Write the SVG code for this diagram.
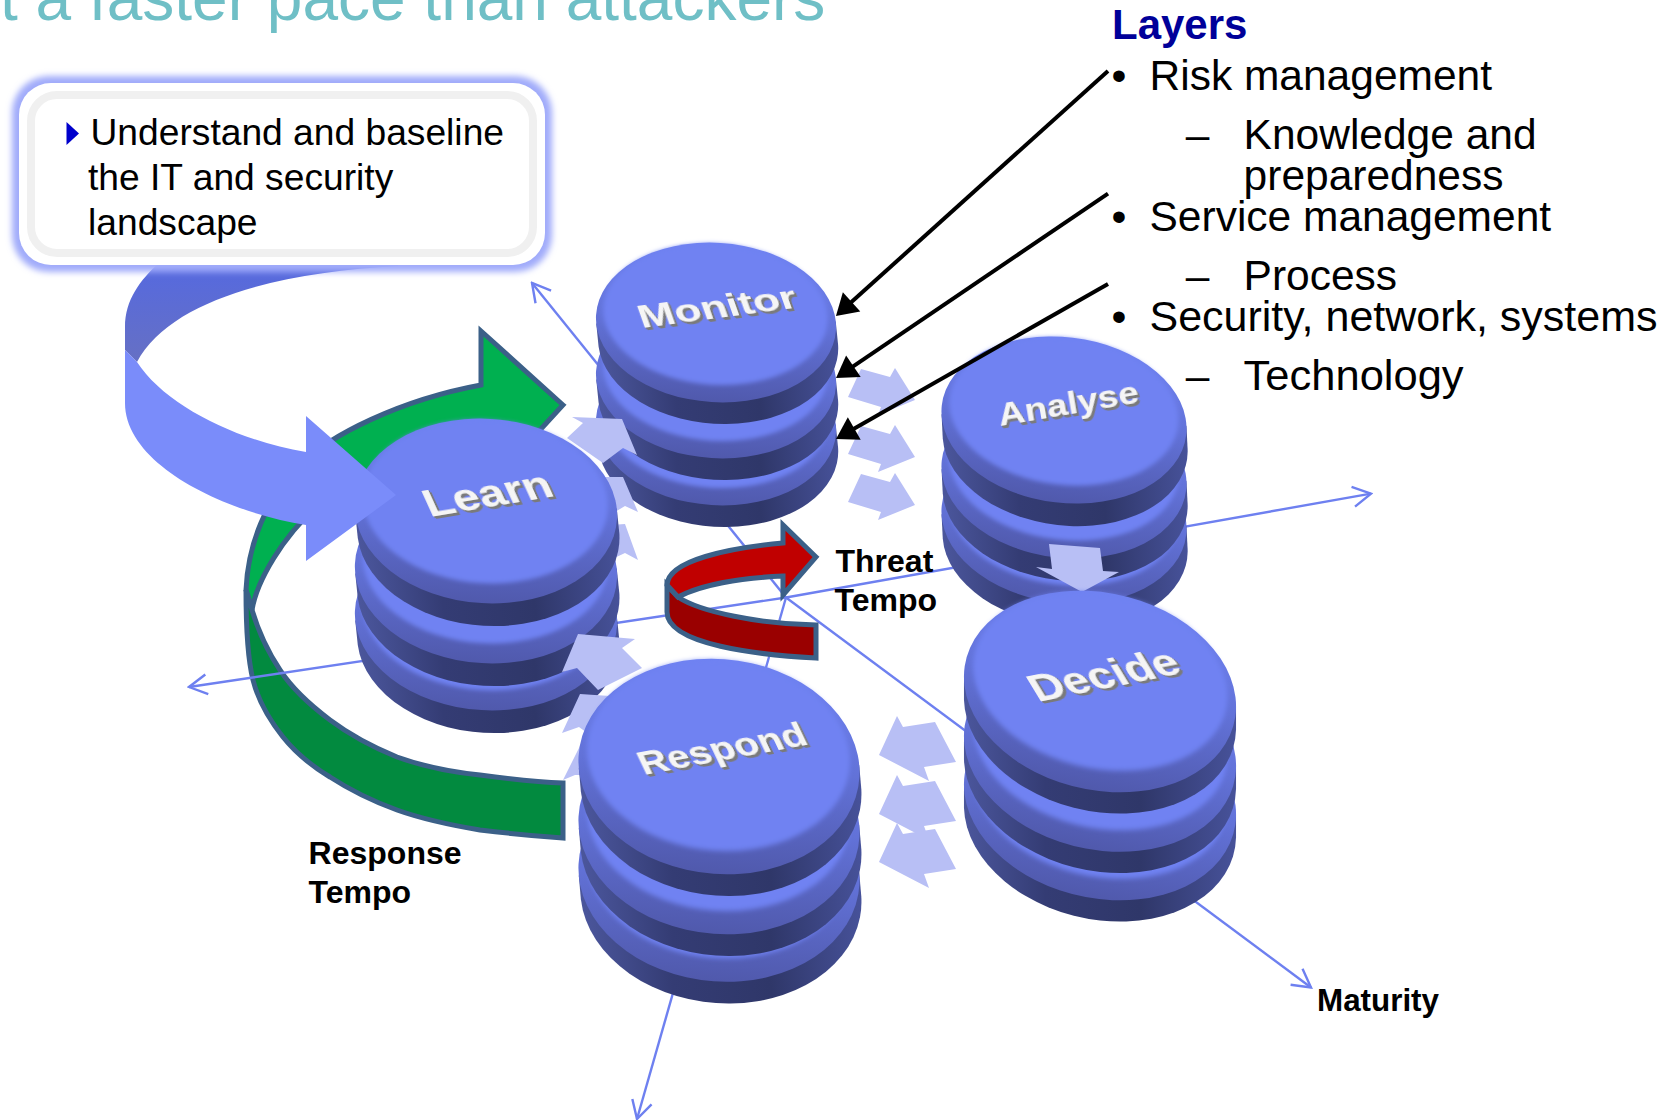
<svg xmlns="http://www.w3.org/2000/svg" xmlns:xlink="http://www.w3.org/1999/xlink" width="1668" height="1120" viewBox="0 0 1668 1120">
<style>
text{font-family:"Liberation Sans",Arial,sans-serif}
.b{font-size:42.5px;fill:#000}
.c{font-size:37.2px;fill:#000}
.l{font-size:32px;font-weight:bold;fill:#000}
.d{font-weight:bold;fill:#f5f5f5;filter:url(#ext)}
.axis{fill:none;stroke:#6e80f0;stroke-width:2.4;marker-end:url(#open)}
.lead{fill:none;stroke:#000;stroke-width:4;marker-end:url(#solid)}
.pale{fill:#b8bff5}
.edge{stroke:#3b6088;stroke-width:5;stroke-linejoin:miter}
</style>
<defs>
<marker id="open" viewBox="-20 -12 22 24" refX="0" refY="0" markerWidth="22" markerHeight="24" orient="auto" markerUnits="userSpaceOnUse"><path d="M-18,-10 L0,0 L-18,10" fill="none" stroke="#6e80f0" stroke-width="2.4"/></marker>
<marker id="solid" viewBox="-12 -14 24 28" refX="0" refY="0" markerWidth="24" markerHeight="28" orient="auto" markerUnits="userSpaceOnUse"><path d="M-11,-13 L10,0 L-11,13 Z" fill="#000"/></marker>
<linearGradient id="rim" x1="0" y1="0" x2="0" y2="1"><stop offset="0" stop-color="#6f82f2"/><stop offset=".5" stop-color="#6272d8"/><stop offset="1" stop-color="#5059ac"/></linearGradient>
<linearGradient id="sideG" x1="0" y1="0" x2="1" y2="0"><stop offset="0" stop-color="#4b569c"/><stop offset=".3" stop-color="#343c74"/><stop offset=".65" stop-color="#2f3769"/><stop offset="1" stop-color="#47529a"/></linearGradient>
<linearGradient id="fold" x1="0" y1="0" x2="0" y2="1"><stop offset="0" stop-color="#5569e0"/><stop offset="1" stop-color="#6670c4"/></linearGradient>
<filter id="soft" x="-5%" y="-5%" width="110%" height="110%"><feGaussianBlur stdDeviation="2"/></filter>
<filter id="glow" x="-5%" y="-10%" width="110%" height="120%"><feGaussianBlur stdDeviation="3"/></filter>
<filter id="ext" x="-10%" y="-20%" width="120%" height="150%">
<feFlood flood-color="#7a7a7a" result="f"/>
<feOffset in="SourceAlpha" dx=".6" dy="1" result="a"/><feOffset in="SourceAlpha" dx="1.2" dy="2" result="b"/><feOffset in="SourceAlpha" dx="1.6" dy="3" result="c"/>
<feMerge result="m"><feMergeNode in="a"/><feMergeNode in="b"/><feMergeNode in="c"/></feMerge>
<feComposite in="f" in2="m" operator="in" result="s"/>
<feMerge><feMergeNode in="s"/><feMergeNode in="SourceGraphic"/></feMerge>
</filter>
<g id="face">
<ellipse rx="123" ry="78.5" transform="rotate(9.4)" fill="url(#rim)"/>
<ellipse cx="-1" cy="-8" rx="115" ry="69.5" transform="rotate(9.4)" fill="#6f82f2" filter="url(#soft)"/>
</g>
<path id="s23" d="M-122,-11.8 V11.2 A123 78.5 9.4 0 0 122,34.8 V11.8 Z" fill="url(#sideG)"/>
<path id="s21" d="M-122,-11.8 V9.2 A123 78.5 9.4 0 0 122,32.8 V11.8 Z" fill="url(#sideG)"/>
<path id="s18" d="M-122,-11.8 V6.6 A123 78.5 9.4 0 0 122,30.2 V11.8 Z" fill="url(#sideG)"/>
<path id="s17" d="M-122,-11.8 V5.7 A123 78.5 9.4 0 0 122,29.3 V11.8 Z" fill="url(#sideG)"/>
<polygon id="right" class="pale" points="861,369 890,377 895,368 915,400 878,415 881,407 848,397"/>
<polygon id="left" class="pale" points="897,716 903,727 935,722 956,762 924,767 929,781 879,755"/>
</defs>

<rect width="1668" height="1120" fill="#fff"/>
<text x="0" y="19.5" font-size="64" fill="#6fbfc6">t a faster pace than attackers</text>

<g id="response-tempo">
<path class="edge" fill="#00b050" d="M563,405 L481,331 L481,385 C400,400 330,435 300,465 C265,500 248,545 246,590 L252,610 C256,585 280,535 330,495 L540,430 Z"/>
<path class="edge" fill="#028a3f" d="M252,610 C258,630 268,652 280,670 C293,690 310,705 330,720 C350,735 375,748 397,757 C425,767 450,772 480,775 C510,779 535,782 563,783 L563,838 C535,836 505,833 480,830 C450,825 425,820 397,810 C375,802 350,790 330,777 C310,765 295,752 283,737 C268,718 258,700 253,680 C248,660 246,635 246,590 Z"/>
</g>

<g id="connectors-axes">
<path class="axis" d="M786,597.5 L532,283"/>
<path class="axis" d="M786,597.5 L1311,987.5"/>
<path class="axis" d="M786,597.5 L1371,493.6"/>
<path class="axis" d="M786,597.5 L189,687"/>
<path class="axis" d="M786,597.5 L637,1119"/>
</g>

<g id="analyse">
<use href="#s23" transform="translate(1064,520) scale(1,1.055) rotate(-3)"/><use href="#face" transform="translate(1064,520) scale(1,1.055) rotate(-3)"/>
<use href="#s23" transform="translate(1064,475) scale(1,1.055) rotate(-3)"/><use href="#face" transform="translate(1064,475) scale(1,1.055) rotate(-3)"/>
<use href="#s23" transform="translate(1064,420) scale(1,1.055) rotate(-3)"/><use href="#face" transform="translate(1064,420) scale(1,1.055) rotate(-3)"/>
<text class="d" font-size="32" textLength="142" lengthAdjust="spacingAndGlyphs" transform="translate(1000,426) rotate(-9.6)">Analyse</text>
</g>
<g id="monitor">
<use href="#s23" transform="translate(716,425.5) scale(.977,1.015) rotate(-6)"/><use href="#face" transform="translate(716,425.5) scale(.977,1.015) rotate(-6)"/>
<use href="#s23" transform="translate(716,378.5) scale(.977,1.015) rotate(-6)"/><use href="#face" transform="translate(716,378.5) scale(.977,1.015) rotate(-6)"/>
<use href="#s23" transform="translate(716,322.5) scale(.977,1.015) rotate(-6)"/><use href="#face" transform="translate(716,322.5) scale(.977,1.015) rotate(-6)"/>
<text class="d" font-size="32" textLength="159" lengthAdjust="spacingAndGlyphs" transform="translate(642,328) rotate(-7.5) skewX(12)">Monitor</text>
</g>
<g id="flow-monitor-analyse">
<use href="#right"/><use href="#right" y="57"/><use href="#right" y="105"/>
</g>
<g id="flow-learn-monitor">
<polygon class="pale" points="572,417 622,419 637,455 623,448 603,463 567,438 583,423"/>
<polygon class="pale" points="600,477 623,477 638,512 625,506 610,515 590,500"/>
<polygon class="pale" points="610,525 625,524 638,560 625,553 610,560 600,540"/>
</g>

<g id="learn">
<use href="#s21" transform="translate(486,618) scale(1.067,1.175) rotate(-6.5)"/><use href="#face" transform="translate(486,618) scale(1.067,1.175) rotate(-6.5)"/>
<use href="#s21" transform="translate(486,571) scale(1.067,1.175) rotate(-6.5)"/><use href="#face" transform="translate(486,571) scale(1.067,1.175) rotate(-6.5)"/>
<use href="#s21" transform="translate(486,511) scale(1.067,1.175) rotate(-6.5)"/><use href="#face" transform="translate(486,511) scale(1.067,1.175) rotate(-6.5)"/>
<text class="d" font-size="39" textLength="128" lengthAdjust="spacingAndGlyphs" transform="translate(430,517) rotate(-9.5) skewX(15)">Learn</text>
</g>
<g id="flow-respond-learn">
<polygon class="pale" points="578,634 635,639 622,648 642,668 598,690 577,668 562,672"/>
<polygon class="pale" points="580,694 610,696 590,735 579,727 562,733"/>
<polygon class="pale" points="582,742 600,745 600,775 575,775 563,780"/>
</g>
<g id="threat-tempo">
<path class="edge" fill="#9a0000" d="M667,585 L678,597 C700,612 760,624 816,625 L816,658 C760,655 667,645 667,612 Z"/>
<path class="edge" fill="#c00000" d="M816,557 L783,525 L783,543 C730,548 668,560 667,585 L678,597 C700,585 740,578 783,576 L783,595 Z"/>
</g>
<g id="respond">
<use href="#s17" transform="translate(719,874) scale(1.144,1.37) rotate(-6)"/><use href="#face" transform="translate(719,874) scale(1.144,1.37) rotate(-6)"/>
<use href="#s17" transform="translate(719,826.5) scale(1.144,1.37) rotate(-6)"/><use href="#face" transform="translate(719,826.5) scale(1.144,1.37) rotate(-6)"/>
<use href="#s17" transform="translate(719,766.5) scale(1.144,1.37) rotate(-6)"/><use href="#face" transform="translate(719,766.5) scale(1.144,1.37) rotate(-6)"/>
<text class="d" font-size="34" textLength="169" lengthAdjust="spacingAndGlyphs" transform="translate(644,775) rotate(-10.5) skewX(15)">Respond</text>
</g>
<polygon id="flow-analyse-decide" class="pale" points="1049,544 1100,548 1103,571 1119,572 1082,592 1036,567 1052,569"/>
<g id="decide">
<use href="#s18" transform="translate(1100,799.5) scale(1.115,1.26)"/><use href="#face" transform="translate(1100,799.5) scale(1.115,1.26)"/>
<use href="#s18" transform="translate(1100,751) scale(1.115,1.26)"/><use href="#face" transform="translate(1100,751) scale(1.115,1.26)"/>
<use href="#s18" transform="translate(1100,691.5) scale(1.115,1.26)"/><use href="#face" transform="translate(1100,691.5) scale(1.115,1.26)"/>
<text class="d" font-size="40" textLength="149" lengthAdjust="spacingAndGlyphs" transform="translate(1038,702) rotate(-11.3) skewX(20)">Decide</text>
</g>
<g id="flow-decide-respond">
<use href="#left"/><use href="#left" y="59"/><use href="#left" y="107"/>
</g>

<g id="baseline-arrow">
<path fill="url(#fold)" d="M398,266 C280,272 170,300 137,362 L125,350 L125,327 C125,300 140,280 160,262 L398,262 Z"/>
<path fill="#7a8cfa" d="M137,362 C165,405 235,440 306,452 L306,416 L396,495 L306,561 L306,525 C225,512 125,465 125,403 L125,350 Z"/>
</g>
<g id="baseline-box">
<rect x="12" y="76" width="540" height="196" rx="37" fill="#a0abfa" filter="url(#glow)"/>
<rect x="19" y="83" width="526" height="182" rx="32" fill="#fff"/>
<rect x="31" y="95" width="502" height="158" rx="26" fill="#fff" stroke="#f0f0f0" stroke-width="8"/>
<polygon points="66.5,122 79,133.5 66.5,145" fill="#0000cc"/>
<text class="c" x="90.5" y="145">Understand and baseline</text>
<text class="c" x="88" y="190">the IT and security</text>
<text class="c" x="88" y="235">landscape</text>
</g>

<g id="connectors-layers">
<path class="lead" d="M1108,71 L843.4,309.3"/>
<path class="lead" d="M1108,193.6 L844.3,372.4"/>
<path class="lead" d="M1108,284 L844.7,434"/>
</g>

<g id="layers-list">
<text x="1112" y="38.6" font-size="42" font-weight="bold" fill="#000099">Layers</text>
<text class="b" x="1111.5" y="90">•</text><text class="b" x="1149.5" y="90">Risk management</text>
<text class="b" x="1185.7" y="149">–</text><text class="b" x="1243.6" y="149">Knowledge and</text>
<text class="b" x="1243.6" y="190">preparedness</text>
<text class="b" x="1111.5" y="231">•</text><text class="b" x="1149.5" y="231">Service management</text>
<text class="b" x="1185.7" y="289.6">–</text><text class="b" x="1243.6" y="289.6">Process</text>
<text class="b" x="1111.5" y="331">•</text><text class="b" x="1149.5" y="331" textLength="508" lengthAdjust="spacingAndGlyphs">Security, network, systems</text>
<text class="b" x="1185.7" y="390">–</text><text class="b" x="1243.6" y="390" textLength="220" lengthAdjust="spacingAndGlyphs">Technology</text>
</g>
<text class="l" x="835.5" y="571.7">Threat</text>
<text class="l" x="834.5" y="610.5">Tempo</text>
<text class="l" x="308.6" y="863.6">Response</text>
<text class="l" x="308.6" y="903">Tempo</text>
<text class="l" x="1317" y="1010.7" textLength="122" lengthAdjust="spacingAndGlyphs">Maturity</text>
</svg>
